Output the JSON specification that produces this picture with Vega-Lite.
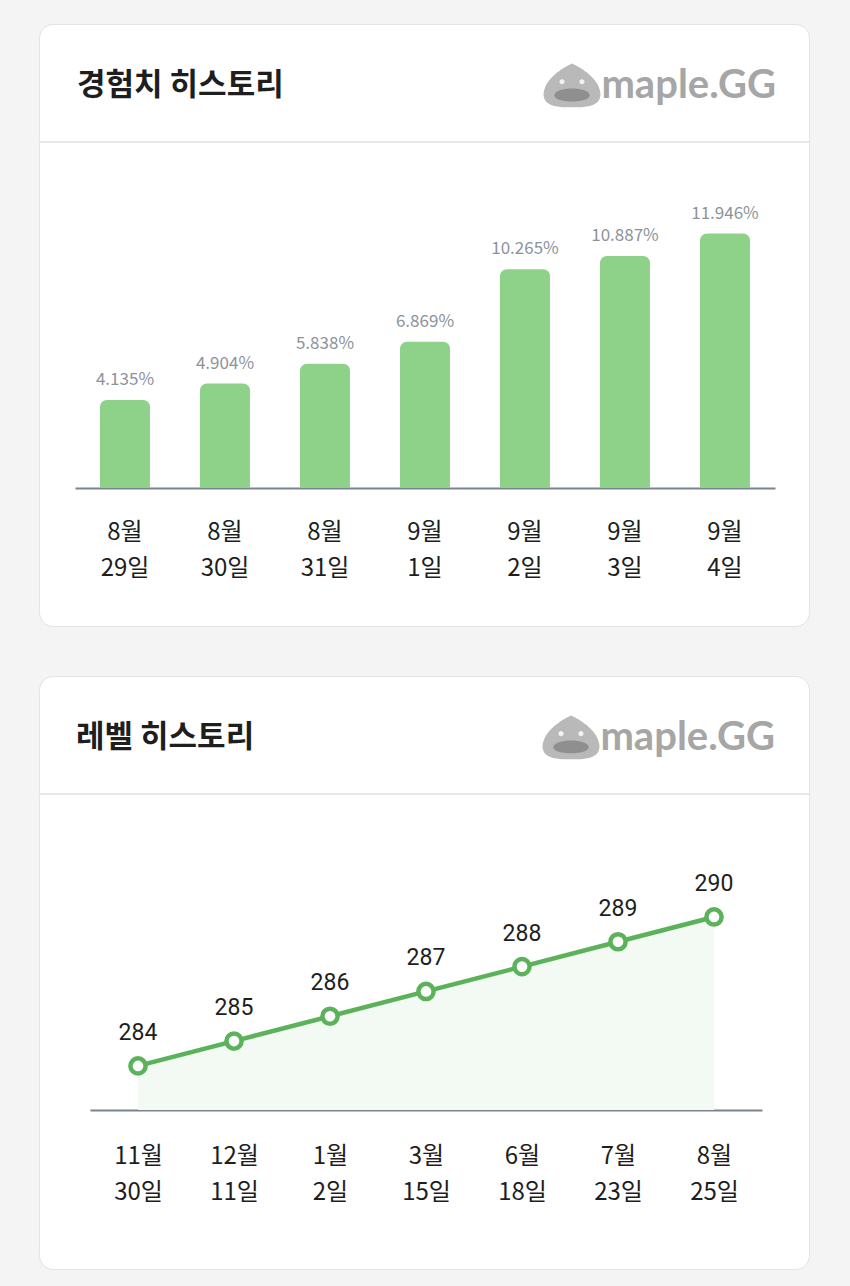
{
  "$schema": "https://vega.github.io/schema/vega-lite/v6.json",
  "background": "#f4f4f4",
  "padding": {"left": 37, "top": 23, "right": 40, "bottom": 16},
  "spacing": 48,
  "config": {
    "font": "Noto Sans CJK KR",
    "view": {"fill": "#ffffff", "stroke": "#e3e3e3", "strokeWidth": 1, "cornerRadius": 14}
  },
  "vconcat": [
    {
      "width": 770,
      "height": 602,
      "title": {"text": "경험치 히스토리", "anchor": "start", "frame": "group", "offset": -93, "dx": 38, "baseline": "middle", "fontSize": 31, "fontWeight": "bold", "font": "Noto Sans CJK KR", "color": "#1e1e1e"},
      "layer": [
        {
          "data": {"values": [{"part": "divider"}]},
          "mark": {"type": "rule", "color": "#e8e8e8", "strokeWidth": 2},
          "encoding": {"y": {"datum": 0.16244, "type": "quantitative", "axis": null}}
        },
        {
          "data": {"values": [
            {"date": "8월 29일", "exp": 0.04135},
            {"date": "8월 30일", "exp": 0.04904},
            {"date": "8월 31일", "exp": 0.05838},
            {"date": "9월 1일", "exp": 0.06869},
            {"date": "9월 2일", "exp": 0.10265},
            {"date": "9월 3일", "exp": 0.10887},
            {"date": "9월 4일", "exp": 0.11946}
          ]},
          "layer": [
            {
              "mark": {"type": "bar", "color": "#8ed28a", "cornerRadiusTopLeft": 7, "cornerRadiusTopRight": 7},
              "encoding": {
                "x": {"field": "date", "type": "nominal", "sort": null,
                  "scale": {"range": [36, 736], "paddingInner": 0.5, "paddingOuter": 0.25},
                  "axis": {"orient": "bottom", "offset": -138, "title": null, "labelAngle": 0, "labelExpr": "split(datum.label, ' ')", "labelFontSize": 24, "labelFont": "Noto Sans CJK KR", "labelColor": "#1e1e1e", "labelLineHeight": 36, "labelPadding": 32, "labelBaseline": "top", "ticks": false, "domainColor": "#7b838c", "domainWidth": 2, "grid": false}},
                "y": {"field": "exp", "type": "quantitative", "scale": {"domain": [-0.06479, 0.21784], "nice": false, "zero": false}, "axis": null},
                "y2": {"datum": 0}
              }
            },
            {
              "mark": {"type": "text", "baseline": "bottom", "dy": -11, "fontSize": 17, "color": "#8c939c", "font": "Noto Sans CJK KR"},
              "encoding": {
                "x": {"field": "date", "type": "nominal", "sort": null},
                "y": {"field": "exp", "type": "quantitative", "axis": null},
                "text": {"field": "exp", "type": "quantitative", "format": ".3%"}
              }
            }
          ]
        },
        {
          "data": {"values": [{"logo": "maple.GG"}]},
          "layer": [
            {
              "mark": {"type": "point", "shape": "M0,-0.72 C0.35,-0.55 0.95,-0.2 1,0.35 C1,0.75 0.6,0.82 0,0.82 C-0.6,0.82 -1,0.75 -1,0.35 C-0.95,-0.2 -0.35,-0.55 0,-0.72 Z", "filled": true, "color": "#b9b9b9", "opacity": 1, "size": 3249, "xOffset": -153},
              "encoding": {"x": {"datum": "9월 4일", "type": "nominal"}, "y": {"datum": 0.18967, "type": "quantitative", "axis": null}}
            },
            {
              "mark": {"type": "point", "shape": "M-0.62,0.4 C-0.62,0.08 0.62,0.08 0.62,0.4 C0.62,0.68 -0.62,0.68 -0.62,0.4 Z", "filled": true, "color": "#8f8f8f", "opacity": 1, "size": 3249, "xOffset": -153},
              "encoding": {"x": {"datum": "9월 4일", "type": "nominal"}, "y": {"datum": 0.18967, "type": "quantitative", "axis": null}}
            },
            {
              "mark": {"type": "point", "shape": "M-0.44,-0.08 A0.09,0.09 0 1,0 -0.26,-0.08 A0.09,0.09 0 1,0 -0.44,-0.08 Z M0.26,-0.08 A0.09,0.09 0 1,0 0.44,-0.08 A0.09,0.09 0 1,0 0.26,-0.08 Z", "filled": true, "color": "#f2f2f2", "opacity": 1, "size": 3249, "xOffset": -153},
              "encoding": {"x": {"datum": "9월 4일", "type": "nominal"}, "y": {"datum": 0.18967, "type": "quantitative", "axis": null}}
            },
            {
              "mark": {"type": "text", "align": "right", "baseline": "middle", "dx": 51, "dy": 2, "fontSize": 40, "fontWeight": "bold", "font": "Lato", "color": "#a6a6a6"},
              "encoding": {"x": {"datum": "9월 4일", "type": "nominal"}, "y": {"datum": 0.18967, "type": "quantitative", "axis": null}, "text": {"field": "logo"}}
            }
          ]
        }
      ]
    },
    {
      "width": 770,
      "height": 593,
      "title": {"text": "레벨 히스토리", "anchor": "start", "frame": "group", "offset": -93, "dx": 37, "baseline": "middle", "fontSize": 31, "fontWeight": "bold", "font": "Noto Sans CJK KR", "color": "#1e1e1e"},
      "layer": [
        {
          "data": {"values": [{"part": "divider"}]},
          "mark": {"type": "rule", "color": "#e8e8e8", "strokeWidth": 2},
          "encoding": {"y": {"datum": 294.95, "type": "quantitative", "axis": null}}
        },
        {
          "data": {"values": [
            {"date": "11월 30일", "level": 284},
            {"date": "12월 11일", "level": 285},
            {"date": "1월 2일", "level": 286},
            {"date": "3월 15일", "level": 287},
            {"date": "6월 18일", "level": 288},
            {"date": "7월 23일", "level": 289},
            {"date": "8월 25일", "level": 290}
          ]},
          "layer": [
            {
              "mark": {"type": "area", "color": "#f3f9f3", "opacity": 1},
              "encoding": {
                "x": {"field": "date", "type": "nominal", "sort": null,
                  "scale": {"range": [51, 723], "paddingInner": 0, "paddingOuter": 0},
                  "axis": {"orient": "bottom", "offset": -159, "title": null, "labelAngle": 0, "labelExpr": "split(datum.label, ' ')", "labelFontSize": 24, "labelFont": "Noto Sans CJK KR", "labelColor": "#1e1e1e", "labelLineHeight": 36, "labelPadding": 34, "labelBaseline": "top", "ticks": false, "domainColor": "#7b838c", "domainWidth": 2, "grid": false}},
                "y": {"field": "level", "type": "quantitative", "scale": {"domain": [275.82, 299.705], "nice": false, "zero": false}, "axis": null},
                "y2": {"datum": 282.22}
              }
            },
            {
              "mark": {"type": "line", "color": "#5cb25a", "strokeWidth": 4.5},
              "encoding": {
                "x": {"field": "date", "type": "nominal", "sort": null},
                "y": {"field": "level", "type": "quantitative", "axis": null}
              }
            },
            {
              "mark": {"type": "point", "filled": true, "fill": "#ffffff", "stroke": "#5cb25a", "strokeWidth": 4.5, "size": 230, "opacity": 1},
              "encoding": {
                "x": {"field": "date", "type": "nominal", "sort": null},
                "y": {"field": "level", "type": "quantitative", "axis": null}
              }
            },
            {
              "mark": {"type": "text", "baseline": "bottom", "dy": -21, "fontSize": 23, "color": "#1e1e1e", "font": "Roboto"},
              "encoding": {
                "x": {"field": "date", "type": "nominal", "sort": null},
                "y": {"field": "level", "type": "quantitative", "axis": null},
                "text": {"field": "level", "type": "quantitative"}
              }
            }
          ]
        },
        {
          "data": {"values": [{"logo": "maple.GG"}]},
          "layer": [
            {
              "mark": {"type": "point", "shape": "M0,-0.72 C0.35,-0.55 0.95,-0.2 1,0.35 C1,0.75 0.6,0.82 0,0.82 C-0.6,0.82 -1,0.75 -1,0.35 C-0.95,-0.2 -0.35,-0.55 0,-0.72 Z", "filled": true, "color": "#b9b9b9", "opacity": 1, "size": 3249, "xOffset": -143},
              "encoding": {"x": {"datum": "8월 25일", "type": "nominal"}, "y": {"datum": 297.29, "type": "quantitative", "axis": null}}
            },
            {
              "mark": {"type": "point", "shape": "M-0.62,0.4 C-0.62,0.08 0.62,0.08 0.62,0.4 C0.62,0.68 -0.62,0.68 -0.62,0.4 Z", "filled": true, "color": "#8f8f8f", "opacity": 1, "size": 3249, "xOffset": -143},
              "encoding": {"x": {"datum": "8월 25일", "type": "nominal"}, "y": {"datum": 297.29, "type": "quantitative", "axis": null}}
            },
            {
              "mark": {"type": "point", "shape": "M-0.44,-0.08 A0.09,0.09 0 1,0 -0.26,-0.08 A0.09,0.09 0 1,0 -0.44,-0.08 Z M0.26,-0.08 A0.09,0.09 0 1,0 0.44,-0.08 A0.09,0.09 0 1,0 0.26,-0.08 Z", "filled": true, "color": "#f2f2f2", "opacity": 1, "size": 3249, "xOffset": -143},
              "encoding": {"x": {"datum": "8월 25일", "type": "nominal"}, "y": {"datum": 297.29, "type": "quantitative", "axis": null}}
            },
            {
              "mark": {"type": "text", "align": "right", "baseline": "middle", "dx": 61, "dy": 2, "fontSize": 40, "fontWeight": "bold", "font": "Lato", "color": "#a6a6a6"},
              "encoding": {"x": {"datum": "8월 25일", "type": "nominal"}, "y": {"datum": 297.29, "type": "quantitative", "axis": null}, "text": {"field": "logo"}}
            }
          ]
        }
      ]
    }
  ]
}
